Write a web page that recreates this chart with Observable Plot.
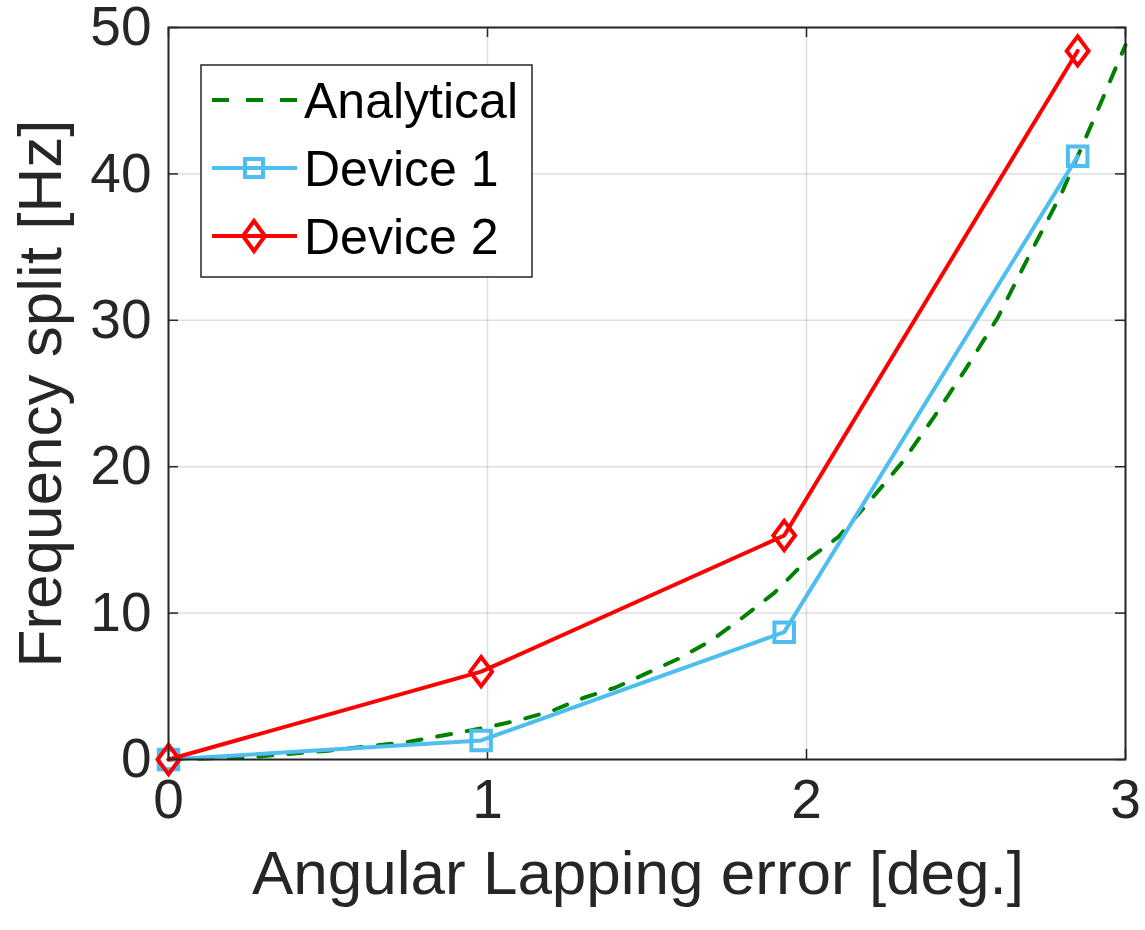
<!DOCTYPE html>
<html>
<head>
<meta charset="utf-8">
<script src="https://cdn.jsdelivr.net/npm/d3@7"></script>
<script src="https://cdn.jsdelivr.net/npm/@observablehq/plot@0.6"></script>
<style>
  html, body { margin: 0; padding: 0; background: white; }
  #chart { width: 1145px; height: 930px; }
</style>
</head>
<body>
<div id="chart"></div>
<script>
// ---- data ----
const xTicks = [0, 1, 2, 3];
const yTicks = [0, 10, 20, 30, 40, 50];

const analyticalX = [0, 0.25, 0.5, 0.75, 1.0, 1.1, 1.2, 1.3, 1.4, 1.5, 1.6, 1.7, 1.8, 1.9, 2.0, 2.1, 2.2, 2.3, 2.4, 2.5, 2.6, 2.7, 2.8, 2.9, 3.0];
const analyticalY = [0, 0.15, 0.6, 1.2, 2.2, 2.7, 3.3, 4.2, 4.9, 5.9, 6.9, 8.1, 9.7, 11.4, 13.6, 15.2, 17.7, 20.3, 23.4, 26.7, 30.2, 34.5, 38.7, 43.7, 48.8];

const device1X = [0, 0.98, 1.93, 2.85];
const device1Y = [0, 1.3, 8.7, 41.2];

const device2X = [0, 0.98, 1.93, 2.85];
const device2Y = [0, 6.0, 15.3, 48.4];

const seriesNames = ["Analytical", "Device 1", "Device 2"];
const seriesColors = ["#008000", "#4dbeee", "#ff0000"];

const xLabel = "Angular Lapping error [deg.]";
const yLabel = "Frequency split [Hz]";

// ---- tables ----
const analytical = analyticalX.map((x, i) => ({x, y: analyticalY[i]}));
const device1 = device1X.map((x, i) => ({x, y: device1Y[i]}));
const device2 = device2X.map((x, i) => ({x, y: device2Y[i]}));

// tall MATLAB-like diamond symbol
const tallDiamond = {
  draw(ctx, size) {
    const k = Math.sqrt(size / Math.PI);
    ctx.moveTo(0, -1.27 * k);
    ctx.lineTo(0.95 * k, 0);
    ctx.lineTo(0, 1.27 * k);
    ctx.lineTo(-0.95 * k, 0);
    ctx.closePath();
  }
};

const W = 1145, H = 930, mL = 168, mR = 20, mT = 27, mB = 171;
const innerH = H - mT - mB;
const innerW = W - mL - mR;
const ink = "#262626";
const font = "'Liberation Sans', Arial, Helvetica, sans-serif";

const chart = Plot.plot({
  width: W, height: H,
  marginLeft: mL, marginRight: mR, marginTop: mT, marginBottom: mB,
  style: {fontFamily: font, color: ink, background: "white", overflow: "visible"},
  x: {domain: [0, 3]},
  y: {domain: [0, 50]},
  marks: [
    Plot.gridX(xTicks, {stroke: ink, strokeOpacity: 0.15, strokeWidth: 1.5}),
    Plot.gridY(yTicks, {stroke: ink, strokeOpacity: 0.15, strokeWidth: 1.5}),
    // inward ticks, bottom/top/left/right
    Plot.tickX(xTicks, {x: d => d, stroke: ink, strokeWidth: 1.5, insetTop: innerH - 10}),
    Plot.tickX(xTicks, {x: d => d, stroke: ink, strokeWidth: 1.5, insetBottom: innerH - 10}),
    Plot.tickY(yTicks, {y: d => d, stroke: ink, strokeWidth: 1.5, insetRight: innerW - 10}),
    Plot.tickY(yTicks, {y: d => d, stroke: ink, strokeWidth: 1.5, insetLeft: innerW - 10}),
    Plot.line(analytical, {x: "x", y: "y", stroke: seriesColors[0], strokeWidth: 4, strokeDasharray: "14,16", curve: "linear"}),
    Plot.line(device1, {x: "x", y: "y", stroke: seriesColors[1], strokeWidth: 4}),
    Plot.dot(device1, {x: "x", y: "y", symbol: "square", r: 11, stroke: seriesColors[1], strokeWidth: 4, fill: "none"}),
    Plot.line(device2, {x: "x", y: "y", stroke: seriesColors[2], strokeWidth: 4}),
    Plot.dot(device2, {x: "x", y: "y", symbol: tallDiamond, r: 11.5, stroke: seriesColors[2], strokeWidth: 4, fill: "none"}),
    Plot.frame({stroke: ink, strokeWidth: 2}),
    Plot.axisX(xTicks, {anchor: "bottom", tickSize: 0, tickPadding: 19, fontSize: 55, label: null, tickFormat: d => String(d)}),
    Plot.axisY(yTicks, {anchor: "left", tickSize: 0, tickPadding: 17, fontSize: 55, label: null, tickFormat: d => String(d)}),
    Plot.text([xLabel], {text: d => d, frameAnchor: "bottom", dx: -9, dy: 134, fontSize: 62, lineAnchor: "bottom", textAnchor: "middle", fill: ink}),
    Plot.text([yLabel], {text: d => d, frameAnchor: "left", dx: -108, rotate: -90, fontSize: 62, lineAnchor: "bottom", textAnchor: "middle", fill: ink})
  ]
});

document.getElementById("chart").appendChild(chart);

// ---- legend inside the axes (top-left) ----
const svg = d3.select(chart);
const lg = svg.append("g").attr("font-family", font).attr("font-size", 50).attr("text-anchor", "start");
lg.append("rect").attr("x", 201).attr("y", 65).attr("width", 331).attr("height", 212)
  .attr("fill", "white").attr("stroke", ink).attr("stroke-width", 1.5);
const rowsY = [100, 168, 236];
seriesNames.forEach((name, i) => {
  const y = rowsY[i];
  lg.append("line").attr("x1", 212).attr("x2", 297).attr("y1", y).attr("y2", y)
    .attr("stroke", seriesColors[i]).attr("stroke-width", 4)
    .attr("stroke-dasharray", i === 0 ? "17,17" : null);
  if (i === 1) {
    lg.append("rect").attr("x", 254 - 9).attr("y", y - 9).attr("width", 18).attr("height", 18)
      .attr("fill", "none").attr("stroke", seriesColors[i]).attr("stroke-width", 4);
  }
  if (i === 2) {
    lg.append("path").attr("d", `M254,${y - 15}L265,${y}L254,${y + 15}L243,${y}Z`)
      .attr("fill", "none").attr("stroke", seriesColors[i]).attr("stroke-width", 4);
  }
  lg.append("text").attr("x", 304).attr("y", y + 18).attr("fill", "black").attr("text-anchor", "start").text(name);
});
</script>
</body>
</html>
